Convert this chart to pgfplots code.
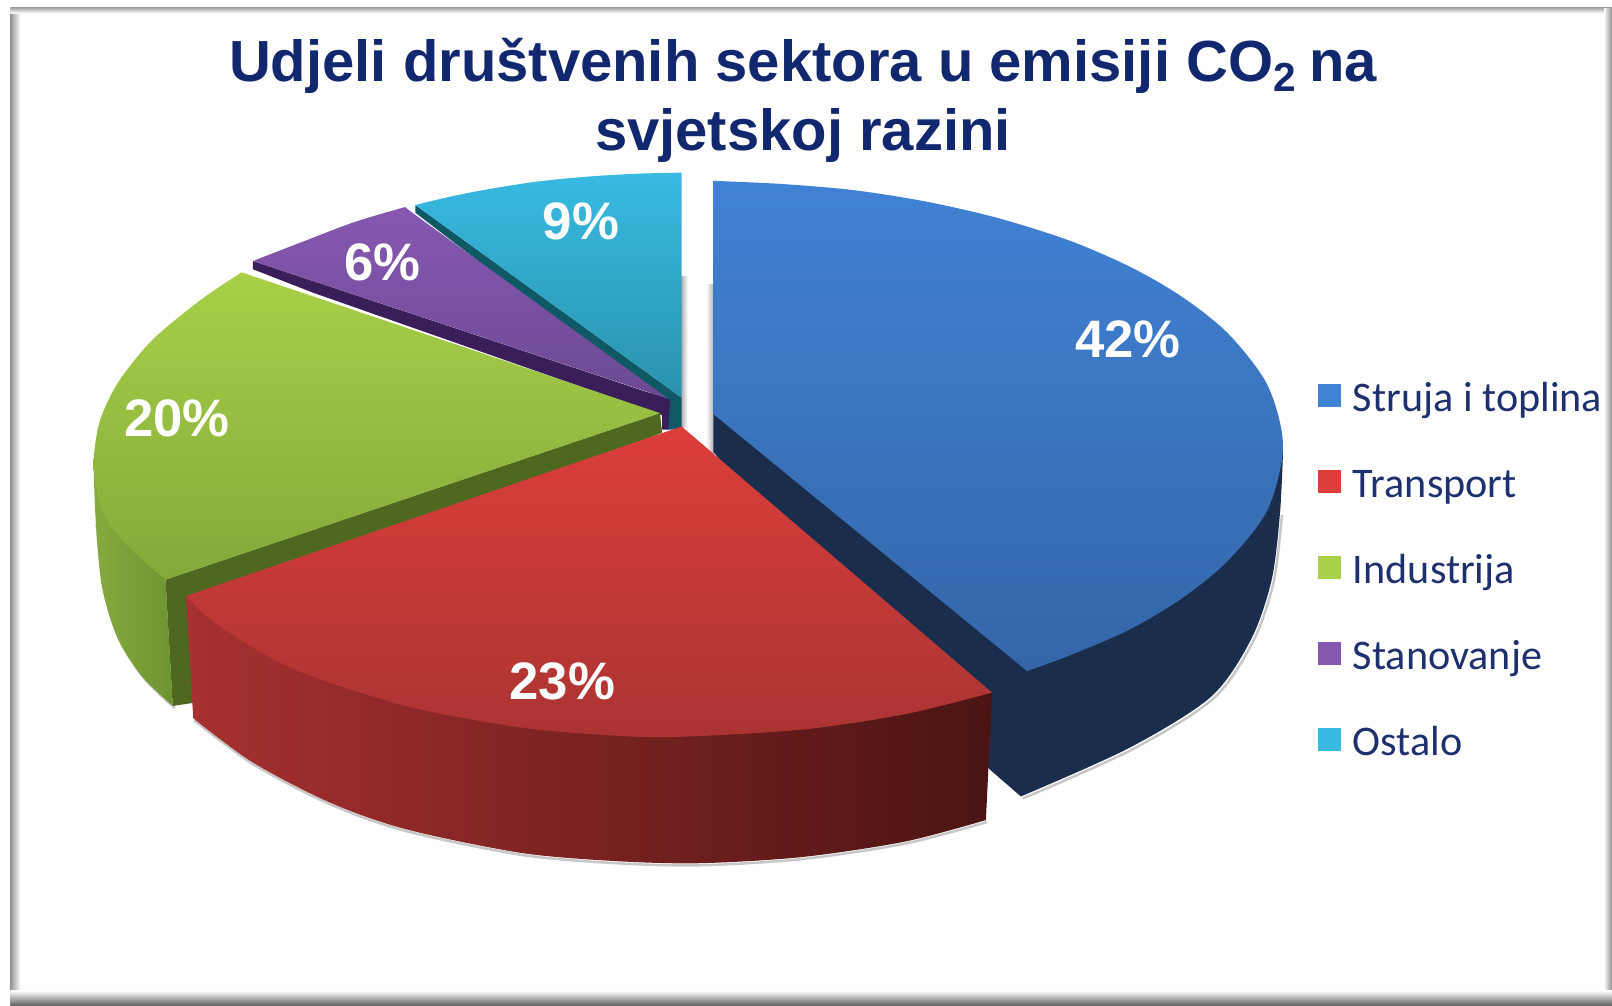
\documentclass[border=0pt]{standalone}
\usepackage{fontspec}
\setmainfont{Liberation Sans}
\newfontfamily\legfont{Carlito}
\usepackage{pgfplots}
\pgfplotsset{compat=1.18}
\definecolor{titleblue}{RGB}{18,40,110}
\definecolor{legblue}{RGB}{30,48,110}
\definecolor{bluetop}{RGB}{64,130,212}
\definecolor{bluebot}{RGB}{52,102,168}
\definecolor{bluewall}{RGB}{26,45,76}
\definecolor{redtop}{RGB}{220,62,58}
\definecolor{redbot}{RGB}{170,52,51}
\definecolor{redwalla}{RGB}{168,48,48}
\definecolor{redwallb}{RGB}{108,30,32}
\definecolor{redwallc}{RGB}{74,20,18}
\definecolor{greentop}{RGB}{168,208,72}
\definecolor{greenbot}{RGB}{132,168,58}
\definecolor{greenwalla}{RGB}{134,170,60}
\definecolor{greenwallb}{RGB}{110,148,50}
\definecolor{olive}{RGB}{78,104,32}
\definecolor{purptop}{RGB}{134,88,178}
\definecolor{purpbot}{RGB}{108,74,146}
\definecolor{purpdark}{RGB}{58,30,90}
\definecolor{tealtop}{RGB}{56,186,226}
\definecolor{tealbot}{RGB}{42,146,172}
\definecolor{tealdark}{RGB}{15,88,102}
\begin{document}
\begin{tikzpicture}
\begin{axis}[
  scale only axis, width=16.12cm, height=10.05cm,
  xmin=0, xmax=1568, ymin=0, ymax=978, y dir=reverse,
  hide axis, clip=false,
  every axis plot/.append style={draw=none},
  legend style={at={(axis cs:1282,374)}, anchor=north west, draw=none, fill=none,
    inner sep=0pt, outer sep=0pt, row sep=5.05mm,
    font=\legfont\fontsize{12}{14}\selectfont\color{legblue},
    nodes={inner sep=0pt, text height=2.5mm, text depth=0.8mm},
    /tikz/column 2/.style={column sep=0pt}},
  legend cell align=left,
  legend image code/.code={\fill[#1] (0mm,-0.35mm) rectangle (2.3mm,1.9mm);},
]
  % frame
  \addplot[fill=white, forget plot] coordinates {(0,0) (1568,0) (1568,978) (0,978)} -- cycle;
  \addplot[left color=black!42, right color=white, forget plot] coordinates {(10,8) (20,8) (20,970) (10,970)} -- cycle;
  \addplot[top color=black!38, bottom color=white, forget plot] coordinates {(10,7) (1568,7) (1568,13) (10,13)} -- cycle;
  \addplot[left color=white, right color=black!45, forget plot] coordinates {(1560,8) (1568,8) (1568,970) (1560,970)} -- cycle;
  \addplot[top color=white, bottom color=black!60, forget plot] coordinates {(10,964) (1568,964) (1568,978) (10,978)} -- cycle;

  % shadows in the gap
  \addplot[left color=black!30, right color=white, forget plot] coordinates {(663,269) (669,269) (669,416) (663,416)} -- cycle;
  \addplot[left color=white, right color=black!30, forget plot] coordinates {(687,277) (694,277) (694,445) (687,445)} -- cycle;

  % Ostalo
  \addplot[fill=tealdark, forget plot] coordinates {(404,199.5) (404,207) (650,396) (650,418) (663,418) (663,387)} -- cycle;
  \addplot[top color=tealtop, bottom color=tealbot, smooth, forget plot]
    coordinates {(663,168) (620,169) (570,172) (520,177) (470,185) (435,192) (404,199.5)} -- (axis cs:663,387) -- cycle;

  % Stanovanje
  \addplot[fill=purpdark, forget plot] coordinates {(246,254) (246,262) (305,285) (644,404) (644,418) (650,418) (652,389)} -- cycle;
  \addplot[top color=purptop, bottom color=purpbot, smooth, forget plot]
    coordinates {(394,201.5) (345,216) (295,235) (246,254)} -- (axis cs:650,388) -- (axis cs:401,207) -- cycle;

  % Industrija
  \addplot[smooth, draw=black!20, line width=0.7pt, forget plot]
    coordinates {(94,510) (101,572) (116,622) (140,660) (170,689)};
  \addplot[left color=greenwalla, right color=greenwallb, smooth, forget plot]
    coordinates {(91,450) (93,505) (99,570) (114,620) (138,658) (168,687)} -- (axis cs:161,564) -- cycle;
  \addplot[fill=olive, forget plot] coordinates {(161,564) (642,402) (644,421) (200,600) (188,684) (168,687)} -- cycle;
  \addplot[top color=greentop, bottom color=greenbot, smooth, forget plot]
    coordinates {(235,265) (195,292) (148,331) (115,372) (97,410) (91,450) (95,482) (103,505) (120,527) (140,546) (161,564)} -- (axis cs:642,402) -- cycle;

  % Struja i toplina
  \addplot[smooth, draw=black!22, line width=0.7pt, forget plot]
    coordinates {(995,777) (1100,730) (1180,680) (1219,624) (1239,566) (1247,501)};
  \addplot[fill=bluewall, smooth, forget plot]
    coordinates {(1248,440) (1245,500) (1237,564) (1217,622) (1178,678) (1098,728) (993,775)} -- (axis cs:963,749) -- (axis cs:694,440) -- (axis cs:694,400) -- cycle;
  \addplot[top color=bluetop, bottom color=bluebot, smooth, forget plot]
    coordinates {(694,176) (760,179) (830,185) (900,196) (970,212) (1040,234) (1100,260) (1150,289) (1195,325) (1233,375) (1248,434) (1233,496) (1195,545) (1150,582) (1098,613) (1040,638) (999,653)} -- (axis cs:694,403) -- cycle;

  % Transport
  \addplot[smooth, draw=black!22, line width=0.7pt, forget plot]
    coordinates {(189,701) (247,744) (322,783) (396,809) (508,832) (600,840) (681,842) (780,836) (880,821) (960,800)};
  \addplot[left color=redwalla, middle color=redwallb, right color=redwallc, smooth, forget plot]
    coordinates {(188,699) (246,742) (321,781) (395,807) (507,830) (600,838) (681,840) (780,834) (880,819) (959,798)} -- (axis cs:965,674) -- (axis cs:181,580) -- cycle;
  \addplot[top color=redtop, bottom color=redbot, smooth, forget plot]
    coordinates {(181,580) (209,606) (283,650) (395,687) (507,708) (600,716) (661,717) (780,710) (880,695) (965,674)} -- (axis cs:663,415) -- cycle;

  % percentage labels
  \addplot[only marks, mark=none, forget plot, point meta=explicit symbolic, nodes near coords,
    every node near coord/.append style={anchor=center, inner sep=0pt, text=white,
      font=\bfseries\fontsize{15}{17}\selectfont}]
    coordinates {(1097,330) [42\%] (547,663) [23\%] (172,407) [20\%] (372,255) [6\%] (565,215) [9\%]};

  \addlegendimage{fill=bluetop} \addlegendentry{\hspace{1.2mm}Struja i toplina}
  \addlegendimage{fill=redtop} \addlegendentry{\hspace{1.2mm}Transport}
  \addlegendimage{fill=greentop} \addlegendentry{\hspace{1.2mm}Industrija}
  \addlegendimage{fill=purptop} \addlegendentry{\hspace{1.2mm}Stanovanje}
  \addlegendimage{fill=tealtop} \addlegendentry{\hspace{1.2mm}Ostalo}

  \node[align=center, text=titleblue, font=\bfseries\fontsize{16.5}{19.6}\selectfont]
    at (axis cs:781,98) {Udjeli društvenih sektora u emisiji CO\textsubscript{2}\hspace{-0.08em} na\\svjetskoj razini};
\end{axis}
\end{tikzpicture}
\end{document}
